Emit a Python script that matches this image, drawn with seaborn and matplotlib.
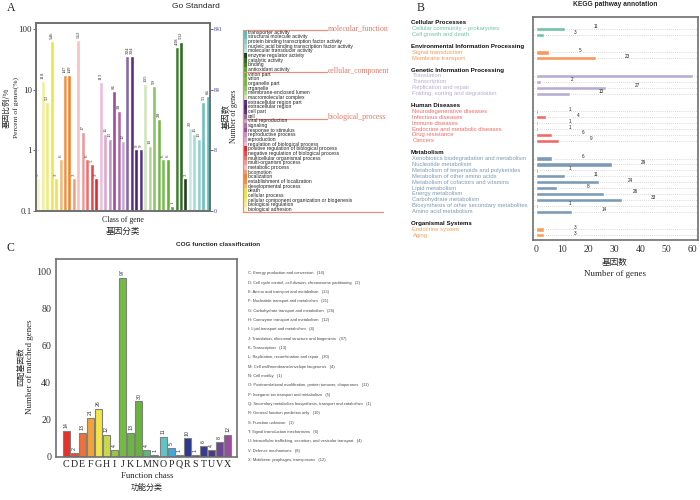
import matplotlib
matplotlib.use("Agg")
import matplotlib.pyplot as plt
import matplotlib.transforms as mtransforms
from matplotlib.colors import ListedColormap
from matplotlib.ticker import NullLocator
import numpy as np
import pandas as pd
import seaborn as sns

SERIF = ["Liberation Serif", "DejaVu Serif"]
SANS = ["Liberation Sans", "DejaVu Sans"]
CJK = ["Noto Sans CJK SC", "DejaVu Sans"]

# ---------------- A: GO data (bars left to right)
go_terms = [
    "biological adhesion", "biological regulation",
    "cellular component organization or biogenesis", "cellular process", "death",
    "developmental process", "establishment of localization", "localization",
    "locomotion", "metabolic process", "multi-organism process",
    "multicellular organismal process", "negative regulation of biological process",
    "positive regulation of biological process", "regulation of biological process",
    "reproduction", "reproductive process", "response to stimulus", "signaling",
    "viral reproduction",
    "cell", "cell part", "extracellular region", "extracellular region part",
    "macromolecular complex", "membrane-enclosed lumen", "organelle",
    "organelle part", "virion", "virion part",
    "antioxidant activity", "binding", "catalytic activity",
    "enzyme regulator activity", "molecular transducer activity",
    "nucleic acid binding transcription factor activity",
    "protein binding transcription factor activity",
    "structural molecule activity", "transporter activity",
]
go_counts = [3, 118, 53, 546, 3, 6, 147, 149, 3, 562, 17, 6, 5, 3, 113, 16, 13, 81, 38, 12,
             304, 304, 9, 9, 105, 10, 99, 28, 6, 6,
             1, 438, 532, 3, 20, 16, 13, 53, 66]
go_total = 841
go_sections = ["biological_process", "cellular_component", "molecular_function"]
go_section_sizes = [20, 10, 9]

go_colors = ["#f8f6c8", "#f2ee9a", "#eeea80", "#ebe548", "#e9e357",
             "#f5b870", "#f29040", "#f08430", "#f09a78",
             "#f8c0c0", "#f09898", "#ec7070", "#e84848", "#e02828",
             "#ecbcdc", "#dca8d0", "#c890c4", "#a04a9c", "#b468ac", "#c8a6d4",
             "#8a68ac", "#5c2e86", "#4a2477", "#55308a",
             "#cfe5bb", "#b0d696", "#8cc468", "#74b84a", "#7cbd52", "#66ae3a",
             "#58a833", "#3e7e2c", "#2f6b22", "#1f3d1a",
             "#c4e6e2", "#a6dad6", "#8ccfcb", "#68c0bf", "#5cbcbc"]

# ---------------- B: KEGG data
kegg_groups = ["Cellular Processes", "Environmental Information Processing",
               "Genetic Information Processing", "Human Diseases", "Metabolism",
               "Organismal Systems"]
kegg_pathways = [
    ["Cellular community \u2013 prokaryotes", "Cell growth and death"],
    ["Signal transduction", "Membrane transport"],
    ["Translation", "Transcription", "Replication and repair",
     "Folding, sorting and degradation"],
    ["Neurodegenerative diseases", "Infectious diseases", "Immune diseases",
     "Endocrine and metabolic diseases", "Drug resistance", "Cancers"],
    ["Xenobiotics biodegradation and metabolism", "Nucleotide metabolism",
     "Metabolism of terpenoids and polyketides", "Metabolism of other amino acids",
     "Metabolism of cofactors and vitamins", "Lipid metabolism", "Energy metabolism",
     "Carbohydrate metabolism", "Biosynthesis of other secondary metabolites",
     "Amino acid metabolism"],
    ["Endocrine system", "Aging"],
]
kegg_counts = [[11, 3], [5, 23], [60, 2, 27, 13], [1, 4, 1, 1, 6, 9],
               [6, 29, 1, 11, 24, 8, 26, 33, 1, 14], [3, 3]]
kegg_colors = ["#72c3a6", "#f59a5e", "#b9acd3", "#ef6b67", "#7d9bb5", "#f7a05e"]

# ---------------- C: COG data
cog_codes = list("CDEFGHIJKLMNOPQRSTUVX")
cog_counts = [14, 2, 13, 21, 26, 12, 4, 97, 13, 30, 4, 1, 11, 5, 1, 10, 1, 6, 4, 8, 12]
cog_names = [
    "Energy production and conversion",
    "Cell cycle control, cell division, chromosome partitioning",
    "Amino acid transport and metabolism",
    "Nucleotide transport and metabolism",
    "Carbohydrate transport and metabolism",
    "Coenzyme transport and metabolism",
    "Lipid transport and metabolism",
    "Translation, ribosomal structure and biogenesis",
    "Transcription",
    "Replication, recombination and repair",
    "Cell wall/membrane/envelope biogenesis",
    "Cell motility",
    "Posttranslational modification, protein turnover, chaperones",
    "Inorganic ion transport and metabolism",
    "Secondary metabolites biosynthesis, transport and catabolism",
    "General function prediction only",
    "Function unknown",
    "Signal transduction mechanisms",
    "Intracellular trafficking, secretion, and vesicular transport",
    "Defense mechanisms",
    "Mobilome: prophages, transposons",
]
cog_colors = ["#e8312a", "#ec4b2b", "#f0703a", "#f5a23a", "#f2e545", "#c8d94a",
              "#96c83e", "#74bb42", "#6cb544", "#68b33c", "#5cb87a", "#4fb39a",
              "#5ec4c4", "#3fa8e0", "#2f6fb0", "#2b3a8e", "#2f3384", "#383a8e",
              "#4d3588", "#6d4496", "#9c4c9e"]

sns.set_style("white")
plt.rcParams["font.family"] = SANS
SPINE = "#707070"


def fxy(x, y):
    return x / 700, 1 - y / 500


def frame(ax):
    for s in ax.spines.values():
        s.set_visible(True)
        s.set_color(SPINE)
        s.set_linewidth(1.2)


fig = plt.figure(figsize=(7, 5), dpi=100)

# ================= Panel A
axA = fig.add_axes([36 / 700, 1 - 211 / 500, 174 / 700, 188 / 500])
pct = np.array(go_counts) / go_total * 100
dfA = pd.DataFrame({"term": go_terms, "pct": pct})
sns.barplot(data=dfA, x="term", y="pct", hue="term", palette=go_colors, width=0.88,
            saturation=1, legend=False, ax=axA)
axA.set_yscale("log")
axA.set_ylim(0.1, 128)
axA.set_xlim(-0.5, len(go_terms) - 0.5)
axA.yaxis.set_minor_locator(NullLocator())
axA.set_yticks([0.1, 1, 10, 100])
axA.set_yticklabels(["0.1", "1", "10", "100"], family=SERIF, fontsize=6.5, color="#333")
axA.set_xticks([])
axA.set_xlabel("")
axA.set_ylabel("")
axA.tick_params(axis="y", length=2, width=0.6, pad=1, colors="#555", labelcolor="#333")
for i, (p, c) in enumerate(zip(pct, go_counts)):
    axA.text(i, p * 1.08, str(c), rotation=90, ha="center", va="bottom",
             fontsize=3.6, family=SERIF, color="#333")
frame(axA)

axA2 = axA.twinx()
axA2.set_yscale("log")
axA2.set_ylim(axA.get_ylim())
axA2.yaxis.set_minor_locator(NullLocator())
axA2.set_yticks([100, 10, 1, 0.1])
axA2.set_yticklabels([str(int(go_total * p / 100)) for p in [100, 10, 1, 0.1]],
                     family=SERIF, fontsize=4.2, color="#4040a8")
axA2.tick_params(axis="y", length=2, width=0.6, pad=1, colors="#555", labelcolor="#4040a8")
frame(axA2)

fig.text(*fxy(11, 8), "A", family=SERIF, fontsize=8.5, ha="center", va="center")
fig.text(*fxy(196, 7), "Go Standard", fontsize=6, ha="center", va="center")
fig.text(*fxy(7, 108), "基因比例/%", family=CJK, fontsize=5.5, rotation=90, ha="center", va="center")
fig.text(*fxy(16, 108), "Percent of genes(%)", family=SERIF, fontsize=5.4, rotation=90,
         ha="center", va="center")
fig.text(*fxy(226, 116), "基因数", family=CJK, fontsize=6, rotation=90, ha="center", va="center")
fig.text(*fxy(234, 116), "Number of genes", family=SERIF, fontsize=5.6, rotation=90,
         ha="center", va="center")
fig.text(*fxy(123, 220), "Class of gene", family=SERIF, fontsize=5.6, ha="center", va="center")
fig.text(*fxy(123, 231), "基因分类", family=CJK, fontsize=6.2, ha="center", va="center")

# legend strip for A
axL = fig.add_axes([243 / 700, 1 - 211.7 / 500, 4 / 700, 181.7 / 500])
n_go = len(go_terms)
sns.heatmap(np.arange(n_go).reshape(-1, 1), cmap=ListedColormap(go_colors[::-1]),
            vmin=-0.5, vmax=n_go - 0.5, cbar=False, xticklabels=False, yticklabels=False, ax=axL)
for i, t in enumerate(go_terms[::-1]):
    axL.text(1.2, i + 0.5, t, fontsize=3.6, va="center", ha="left", color="#222",
             clip_on=False)
BR = "#e3917f"
bounds = np.cumsum([0] + go_section_sizes[::-1])
for b, name in zip(bounds[:-1], go_sections[::-1]):
    axL.plot([0, 21], [b, b], color=BR, lw=0.9, clip_on=False)
    axL.text(21.1, b - 0.3, name, family=SERIF, fontsize=5.6, color="#e07a6a",
             va="center", ha="left", clip_on=False)
axL.plot([0, 35], [bounds[-1], bounds[-1]], color=BR, lw=0.9, clip_on=False)
axL.plot([0, 0], [0, bounds[-1]], color=BR, lw=0.9, clip_on=False)

# ================= Panel B
# one categorical row per header, pathway and spacer; only pathways get a count
recs = []
for g, names, counts in zip(kegg_groups, kegg_pathways, kegg_counts):
    recs.append({"key": "h:" + g, "group": g, "label": g, "count": np.nan, "kind": "head"})
    for n, c in zip(names, counts):
        recs.append({"key": "p:" + n, "group": g, "label": n, "count": c, "kind": "item"})
    recs.append({"key": "s:" + g, "group": g, "label": "", "count": np.nan, "kind": "gap"})
dfB = pd.DataFrame(recs).iloc[:-1].reset_index(drop=True)
dfB["row"] = dfB.index
order = list(dfB["key"])

axB = fig.add_axes([533 / 700, 1 - 240 / 500, 165 / 700, 223 / 500])
XMAX = 62
items = dfB[dfB["kind"] == "item"]
axB.hlines(items["row"], -1.1, XMAX, colors="#cccccc", linestyles=(0, (1, 1.5)), lw=0.6, zorder=0)
sns.barplot(data=items, x="count", y="key", order=order, hue="group",
            palette=dict(zip(kegg_groups, kegg_colors)), orient="h", width=0.72,
            dodge=False, saturation=1, legend=False, ax=axB)
axB.set_xlim(-1.1, XMAX)
axB.set_ylim(len(order) - 0.2, -1)
axB.set_yticks([])
axB.set_ylabel("")
axB.set_xlabel("")
axB.set_xticks(range(0, 61, 10))
axB.set_xticklabels([str(v) for v in range(0, 61, 10)], family=SERIF, fontsize=7, color="#333")
axB.tick_params(axis="x", length=2, width=0.6, pad=1.5, colors="#555", labelcolor="#333")
for _, r in items.iterrows():
    if r["count"] + 14 < XMAX:
        axB.text(r["count"] + 12, r["row"] - 0.35, str(int(r["count"])), fontsize=3.3,
                 ha="center", va="center", color="#222")
frame(axB)

trB = mtransforms.blended_transform_factory(fig.transFigure, axB.transData)
gcol = dict(zip(kegg_groups, kegg_colors))
for _, r in dfB.iterrows():
    if r["kind"] == "head":
        axB.text(411 / 700, r["row"], r["label"], transform=trB, fontsize=4.4, weight="bold",
                 color="#111", ha="left", va="center", clip_on=False)
    elif r["kind"] == "item":
        axB.text(412.5 / 700, r["row"], r["label"], transform=trB, fontsize=4.2,
                 color=gcol[r["group"]], ha="left", va="center", clip_on=False)

fig.text(*fxy(421, 8), "B", family=SERIF, fontsize=8.5, ha="center", va="center")
fig.text(*fxy(615, 4.5), "KEGG pathway annotation", fontsize=4.8, weight="bold",
         ha="center", va="center")
fig.text(*fxy(615, 263), "基因数", family=CJK, fontsize=6.2, ha="center", va="center")
fig.text(*fxy(615, 274), "Number of genes", family=SERIF, fontsize=6.4, ha="center", va="center")

# ================= Panel C
axC = fig.add_axes([56 / 700, 1 - 457 / 500, 181 / 700, 198 / 500])
sns.barplot(x=cog_codes, y=cog_counts, hue=cog_codes, palette=cog_colors, width=0.87,
            saturation=1, edgecolor="#808080", linewidth=0.8, legend=False, ax=axC)
axC.set_xlim(-1.24, len(cog_codes) - 1 + 1.15)
axC.set_ylim(0, 107)
axC.set_yticks(range(0, 101, 20))
axC.set_yticklabels([str(v) for v in range(0, 101, 20)], family=SERIF, fontsize=7.2, color="#333")
axC.set_xticks(range(len(cog_codes)))
axC.set_xticklabels(cog_codes, family=SERIF, fontsize=7.2, color="#222")
axC.tick_params(axis="y", length=2, width=0.6, pad=1.5, colors="#555", labelcolor="#333")
axC.tick_params(axis="x", length=0, pad=2)
for i, c in enumerate(cog_counts):
    axC.text(i, c + 1.6, str(c), rotation=90, ha="center", va="bottom", fontsize=3.8, color="#333")
frame(axC)

fig.text(*fxy(10, 248), "C", family=SERIF, fontsize=8.5, ha="center", va="center")
fig.text(*fxy(218, 244), "COG function classification", fontsize=4.6, weight="bold",
         ha="center", va="center")
fig.text(*fxy(21, 367), "匹配基因数", family=CJK, fontsize=5.6, rotation=90, ha="center", va="center")
fig.text(*fxy(30, 367), "Number of matched genes", family=SERIF, fontsize=6.4, rotation=90,
         ha="center", va="center")
fig.text(*fxy(147, 476), "Function chass", family=SERIF, fontsize=6.3, ha="center", va="center")
fig.text(*fxy(147, 487), "功能分类", family=CJK, fontsize=5.8, ha="center", va="center")

for i, (code, name, c) in enumerate(zip(cog_codes, cog_names, cog_counts)):
    fig.text(*fxy(248, 273.3 + i * 9.33), f"{code}: {name}   ({c})", fontsize=2.9,
             color="#444", ha="left", va="center")

fig.savefig("out.png", dpi=100)
